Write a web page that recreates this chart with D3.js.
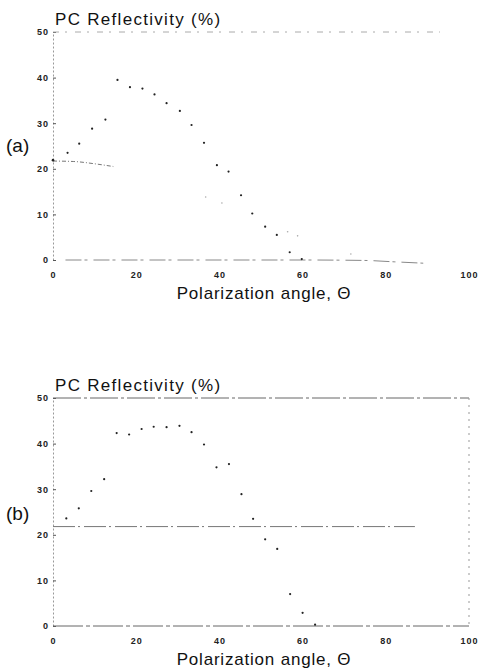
<!DOCTYPE html>
<html>
<head>
<meta charset="utf-8">
<script src="https://cdn.jsdelivr.net/npm/d3@7"></script>
<style>
  body { margin: 0; background: #fff; }
  svg text { font-family: "Liberation Sans", Arial, sans-serif; fill: #111; }
  .axis text { font-size: 9px; font-weight: bold; letter-spacing: 1px; fill: #222; }
  .title, .xlabel { font-size: 17px; }
  .panel { font-size: 19px; }
</style>
</head>
<body>
<div id="chart"></div>
<script>
// Chart values
var xTicks = [0, 20, 40, 60, 80, 100];
var yTicks = [0, 10, 20, 30, 40, 50];

// panel (a) measured points
var anglesA = [3.5, 6.3, 9.4, 12.6, 15.5, 18.5, 21.5, 24.4, 27.3, 30.5, 33.3, 36.3, 39.4, 42.2, 45.2, 47.9, 51.0, 53.8, 56.9, 59.8];
var reflA   = [23.5, 25.5, 28.8, 30.8, 39.5, 37.9, 37.6, 36.3, 34.4, 32.7, 29.6, 25.7, 20.8, 19.4, 14.2, 10.2, 7.3, 5.5, 1.7, 0.2];
// panel (a) faint points
var anglesA2 = [36.7, 40.6, 56.4, 58.8, 71.6];
var reflA2   = [13.8, 12.5, 6.2, 5.3, 1.3];
// panel (a) curves
var curveAx = [0, 5, 10, 14.5];
var curveAy = [21.7, 21.6, 21.1, 20.5];
var baseAx = [3, 60, 75, 82, 89];
var baseAy = [0, 0, -0.1, -0.4, -0.7];

// panel (b) measured points
var anglesB = [3.2, 6.2, 9.2, 12.3, 15.3, 18.3, 21.3, 24.2, 27.3, 30.4, 33.3, 36.3, 39.3, 42.3, 45.3, 48.1, 51.0, 53.9, 57.0, 60.0, 63.0];
var reflB   = [23.6, 25.8, 29.6, 32.2, 42.3, 42.0, 43.2, 43.7, 43.6, 43.9, 42.5, 39.8, 34.8, 35.5, 28.9, 23.5, 19.0, 16.9, 7.0, 2.9, 0.3];
// panel (b) level line
var levelBx = [0, 87];
var levelBy = [21.8, 21.8];

var W = 478, H = 669;
var svg = d3.select('#chart').append('svg')
  .attr('width', W).attr('height', H);

var x = d3.scaleLinear().domain([0, 100]).range([53, 469]);

function drawPanel(top, bottom, name, labelY, boxed) {
  var y = d3.scaleLinear().domain([0, 50]).range([bottom, top]);
  var g = svg.append('g');

  // y axis
  var yAxis = d3.axisLeft(y).tickValues(yTicks).tickSizeInner(-3).tickSizeOuter(0).tickPadding(4);
  g.append('g')
    .attr('class', 'axis')
    .attr('transform', `translate(${x(0)},0)`)
    .call(yAxis)
    .call(a => a.select('.domain').attr('stroke', '#999').attr('stroke-dasharray', '2,2'))
    .call(a => a.selectAll('.tick line').attr('stroke', '#555'));

  // x axis labels
  var xAxis = d3.axisBottom(x).tickValues(xTicks).tickSize(0).tickPadding(12);
  g.append('g')
    .attr('class', 'axis')
    .attr('transform', `translate(0,${bottom})`)
    .call(xAxis)
    .call(a => a.select('.domain').remove());

  // top line at 50
  g.append('line')
    .attr('x1', x(0)).attr('x2', boxed ? x(100) : x(93))
    .attr('y1', y(50)).attr('y2', y(50))
    .attr('stroke', boxed ? '#666' : '#aaa')
    .attr('stroke-width', 1)
    .attr('stroke-dasharray', boxed ? '28,3,3,3' : '6,6,2,8');

  if (boxed) {
    g.append('line')
      .attr('x1', x(100)).attr('x2', x(100))
      .attr('y1', y(50)).attr('y2', y(0))
      .attr('stroke', '#999').attr('stroke-dasharray', '2,5');
    g.append('line')
      .attr('x1', x(0)).attr('x2', x(100))
      .attr('y1', y(0)).attr('y2', y(0))
      .attr('stroke', '#666').attr('stroke-dasharray', '30,3,4,3');
  }

  // title
  g.append('text')
    .attr('class', 'title')
    .attr('x', x(0) + 2)
    .attr('y', top - 7)
    .attr('letter-spacing', 1.3)
    .text('PC Reflectivity (%)');

  // x label
  g.append('text')
    .attr('class', 'xlabel')
    .attr('x', 264)
    .attr('y', bottom + 39)
    .attr('text-anchor', 'middle')
    .attr('letter-spacing', 0.8)
    .text('Polarization angle, \u0398');

  // panel label
  g.append('text')
    .attr('class', 'panel')
    .attr('x', 6)
    .attr('y', labelY)
    .text(name);

  return { g: g, y: y };
}

var pa = drawPanel(32, 260, '(a)', 152, false);
var pb = drawPanel(398, 626, '(b)', 520, true);

function dots(p, xs, ys, r, color) {
  p.g.selectAll(null)
    .data(xs.map((d, i) => [d, ys[i]]))
    .enter()
    .append('circle')
    .attr('cx', d => x(d[0]))
    .attr('cy', d => p.y(d[1]))
    .attr('r', r)
    .attr('fill', color);
}

function curve(p, xs, ys, color, dash, width) {
  var line = d3.line()
    .curve(d3.curveMonotoneX)
    .x(d => x(d[0]))
    .y(d => p.y(d[1]));
  p.g.append('path')
    .datum(xs.map((d, i) => [d, ys[i]]))
    .attr('fill', 'none')
    .attr('stroke', color)
    .attr('stroke-width', width || 1)
    .attr('stroke-dasharray', dash)
    .attr('d', line);
}

// Panel (a)
curve(pa, curveAx, curveAy, '#777', '4,2,1,2');
curve(pa, baseAx, baseAy, '#888', '16,3,3,6');
pa.g.append('circle').attr('cx', x(0)).attr('cy', pa.y(21.9)).attr('r', 1.3).attr('fill', '#222');
dots(pa, anglesA2, reflA2, 0.8, '#aaa');
dots(pa, anglesA, reflA, 1.1, '#222');

// Panel (b)
curve(pb, levelBx, levelBy, '#777', '22,3,2,4');
dots(pb, anglesB, reflB, 1.1, '#222');
</script>
</body>
</html>
